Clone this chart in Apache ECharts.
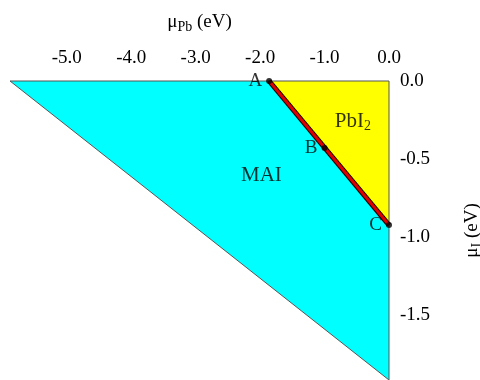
<!DOCTYPE html>
<html><head><meta charset="utf-8">
<script src="https://cdn.jsdelivr.net/npm/echarts@6/dist/echarts.min.js"></script>
<style>html,body{margin:0;padding:0;background:#fff}#c{width:480px;height:380px}</style>
</head><body><div id="c"></div>
<script>
const xTicks = [-5, -4, -3, -2, -1, 0];
const yTicks = [0, -0.5, -1, -1.5];
const maiRegion = [[-5.88, 0], [-1.86, 0], [0, -0.925], [0, -1.92]];
const pbi2Region = [[-1.86, 0], [0, 0], [0, -0.925]];
const boundary = [[-1.86, 0], [0, -0.925]];
const points = [[-1.86, 0], [-1.0, -0.43], [0, -0.925]];
const pointNames = ['A', 'B', 'C'];
const regionLabels = [[-0.56, -0.26, 'PbI2'], [-1.98, -0.605, 'MAI']];

const FONT = '"Liberation Serif", "DejaVu Serif", serif';
const subStyle = { fontFamily: FONT, fontSize: 14, color: '#000', verticalAlign: 'bottom', padding: [9, 0, 0, 0] };
function polySeries(pts, color) {
  return {
    type: 'custom', silent: true, z: 1,
    data: [0],
    renderItem: function (params, api) {
      const p = pts.map(d => api.coord(d));
      return { type: 'polygon', shape: { points: p },
        style: { fill: color, stroke: '#555', lineWidth: 1 } };
    }
  };
}
const chart = echarts.init(document.getElementById('c'));
chart.setOption({
  animation: false,
  grid: { left: 10, right: 91, top: 81, bottom: 0, outerBoundsMode: 'none', containLabel: false },
  xAxis: {
    type: 'value', position: 'top', min: -5.88, max: 0,
    name: 'μ{s|Pb} (eV)', nameLocation: 'middle', nameGap: 47,
    nameTextStyle: { fontFamily: FONT, fontSize: 19, color: '#000', rich: { s: subStyle } },
    axisLine: { show: false }, axisTick: { show: false }, splitLine: { show: false },
    axisLabel: { customValues: xTicks, fontFamily: FONT, fontSize: 19, color: '#000', margin: 13,
      formatter: v => v.toFixed(1) }
  },
  yAxis: {
    type: 'value', position: 'right', min: -1.92, max: 0,
    name: 'μ{s|I} (eV)', nameLocation: 'middle', nameGap: 72,
    nameTextStyle: { fontFamily: FONT, fontSize: 19, color: '#000', rich: { s: subStyle } },
    axisLine: { show: false }, axisTick: { show: false }, splitLine: { show: false },
    axisLabel: { customValues: yTicks, fontFamily: FONT, fontSize: 19, color: '#000', margin: 11,
      formatter: v => v.toFixed(1) }
  },
  series: [
    polySeries(maiRegion, '#00ffff'),
    polySeries(pbi2Region, '#ffff00'),
    { type: 'line', data: boundary, symbol: 'none', z: 3, silent: true,
      lineStyle: { color: '#000', width: 5 } },
    { type: 'line', data: boundary, symbol: 'none', z: 4, silent: true,
      lineStyle: { color: '#e00000', width: 3 } },
    { type: 'scatter', data: points, z: 5, symbolSize: 6, silent: true,
      itemStyle: { color: '#000' },
      label: { show: true, position: 'left', distance: 4, fontFamily: FONT, fontSize: 19, color: '#000',
        formatter: p => pointNames[p.dataIndex] } },
    { type: 'scatter', data: regionLabels, z: 5, symbolSize: 0, silent: true,
      label: { show: true, position: 'inside', fontFamily: FONT, fontSize: 21, color: '#000',
        formatter: p => p.data[2] === 'PbI2' ? 'PbI{s|2}' : p.data[2],
        rich: { s: subStyle } } }
  ]
});
</script></body></html>
